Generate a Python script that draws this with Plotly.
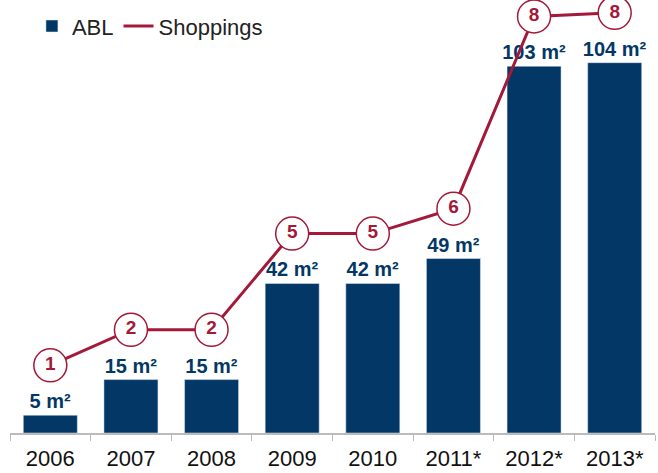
import plotly.graph_objects as go

years = ["2006", "2007", "2008", "2009", "2010", "2011*", "2012*", "2013*"]
abl = [5, 15, 15, 42, 42, 49, 103, 104]
shoppings = [1, 2, 2, 5, 5, 6, 8, 8]

BLUE = "#033866"
RED = "#A3193A"
line_offset = 14  # line drawn above the bars

fig = go.Figure()
fig.add_trace(go.Bar(
    x=years, y=abl, name="ABL", marker_color=BLUE,
    text=[f"{v} m²" for v in abl], textposition="outside", constraintext="none",
    textfont=dict(family="Liberation Sans", size=20, color=BLUE),
    texttemplate="<b>%{text}</b>", cliponaxis=False, showlegend=True,
))
fig.add_trace(go.Scatter(
    x=years, y=[v + line_offset for v in abl], mode="lines+markers+text",
    line=dict(color=RED, width=3),
    marker=dict(size=33, color="white", line=dict(color=RED, width=1.5)),
    text=[f"<b>{s}</b>" for s in shoppings], textposition="middle center",
    textfont=dict(family="Liberation Sans", size=19, color=RED),
    showlegend=False, cliponaxis=False,
))
fig.add_trace(go.Scatter(
    x=[None], y=[None], mode="lines", name="Shoppings",
    line=dict(color=RED, width=3),
))

fig.update_layout(
    width=658, height=473,
    margin=dict(l=10, r=3, t=0, b=40, autoexpand=False),
    plot_bgcolor="white", paper_bgcolor="white",
    bargap=0.33,
    font=dict(family="Liberation Sans", color="#222"),
    legend=dict(orientation="h", x=0.034, y=0.988, yanchor="top", xanchor="left",
                font=dict(size=22, color="#222"), bgcolor="rgba(0,0,0,0)",
                itemwidth=30, tracegroupgap=0),
    xaxis=dict(range=[-0.5, 7.5], showline=True, linecolor="#bbbbbb", linewidth=1.5,
               automargin=False, ticks="outside", tickson="boundaries", ticklen=6,
               ticklabelstandoff=5,
               tickcolor="#bbbbbb", tickfont=dict(size=22, color="#111"), showgrid=False),
    yaxis=dict(range=[0, 121.6], visible=False, showgrid=False, automargin=False),
)

fig.write_html("out.html", config={"displayModeBar": False},
               post_script="document.body.style.margin='0px';")
